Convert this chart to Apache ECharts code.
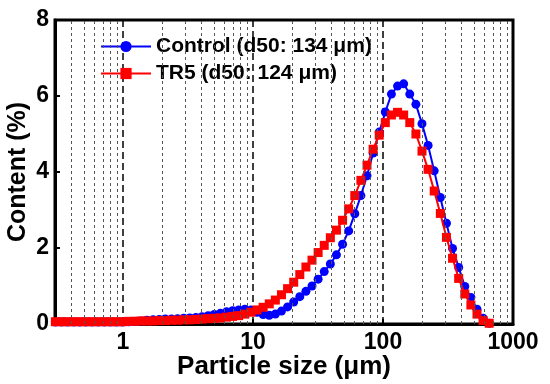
<!DOCTYPE html>
<html>
<head>
<meta charset="utf-8">
<script src="https://cdn.jsdelivr.net/npm/echarts@6/dist/echarts.min.js"></script>
<style>html,body{margin:0;padding:0;background:#fff}#c{width:550px;height:384px}</style>
</head>
<body>
<div id="c"></div>
<script>
// particle size classes (µm), log-evenly spaced
var sizes = [0.302,0.3365,0.375,0.418,0.4656,0.5188,0.578,0.644,0.7178,0.7998,0.8913,0.9931,
  1.1066,1.2331,1.374,1.531,1.706,1.901,2.118,2.360,2.630,2.931,3.266,3.639,4.055,4.519,5.035,
  5.610,6.252,6.966,7.762,8.650,9.638,10.74,11.97,13.34,14.86,16.56,18.45,20.56,22.91,25.53,
  28.44,31.70,35.32,39.36,43.85,48.87,54.45,60.67,67.61,75.34,83.95,93.54,104.2,116.1,129.4,
  144.2,160.7,179.1,199.5,222.3,247.7,276.1,307.6,342.8,382.0,425.6,474.3,528.4,588.8,656.1];
var control = [0.05,0.05,0.05,0.05,0.05,0.05,0.05,0.05,0.05,0.05,0.05,0.05,
  0.06,0.07,0.08,0.10,0.11,0.12,0.13,0.13,0.14,0.15,0.16,0.17,0.19,0.22,0.25,
  0.28,0.32,0.35,0.37,0.39,0.37,0.31,0.25,0.23,0.26,0.34,0.45,0.58,0.72,0.86,
  1.00,1.18,1.38,1.58,1.82,2.10,2.45,2.90,3.38,3.90,4.50,5.05,5.58,6.05,6.26,
  6.32,6.05,5.78,5.27,4.70,4.03,3.33,2.65,1.99,1.49,0.99,0.70,0.39,0.15,0.02];
var tr5 = [0.06,0.06,0.06,0.06,0.06,0.06,0.06,0.06,0.06,0.06,0.06,0.06,
  0.07,0.07,0.08,0.08,0.08,0.09,0.09,0.10,0.10,0.11,0.11,0.12,0.13,0.14,0.15,
  0.16,0.18,0.20,0.22,0.26,0.31,0.37,0.44,0.53,0.63,0.77,0.93,1.10,1.30,1.50,
  1.68,1.88,2.07,2.27,2.47,2.73,3.03,3.38,3.78,4.18,4.60,4.97,5.30,5.50,5.57,
  5.50,5.30,5.00,4.55,4.07,3.50,2.91,2.28,1.73,1.20,0.79,0.50,0.26,0.09,0.02];
var minorLines = [0.4,0.5,0.6,0.7,0.8,0.9,2,3,4,5,6,7,8,9,20,30,40,50,60,70,80,90,200,300,400,500,600,700,800,900];
var seriesNames = ['Control (d50: 134 μm)', 'TR5 (d50: 124 μm)'];
var yTicks = [0, 2, 4, 6, 8];

function pairs(v) { return sizes.map(function (s, i) { return [s, v[i]]; }); }

var chart = echarts.init(document.getElementById('c'));
var font = 'Liberation Sans, Arial, sans-serif';
chart.setOption({
  animation: false,
  grid: { left: 55, right: 37, top: 20, bottom: 60, outerBoundsMode: 'none', containLabel: false,
    show: true, borderColor: '#000', borderWidth: 3, backgroundColor: 'transparent' },
  legend: {
    data: seriesNames, orient: 'vertical', left: 95, top: 31, itemWidth: 50, itemHeight: 14, itemGap: 6,
    textStyle: { fontFamily: font, fontWeight: 'bold', fontSize: 21, color: '#000' }
  },
  xAxis: {
    type: 'log', logBase: 10, min: 0.3, max: 1000,
    name: 'Particle size (μm)', nameLocation: 'middle', nameGap: 30, nameMoveOverlap: false,
    nameTextStyle: { fontFamily: font, fontWeight: 'bold', fontSize: 26, color: '#000' },
    axisLine: { lineStyle: { color: '#000', width: 3 } },
    axisTick: { inside: true, length: 5, lineStyle: { color: '#000', width: 2 } },
    axisLabel: { showMinLabel: false, margin: 7, fontFamily: font, fontWeight: 'bold', fontSize: 23, color: '#000',
      formatter: function (v) { return String(Math.round(v)); } },
    splitLine: { show: true, lineStyle: { color: '#000', width: 1.5, type: [7, 4] } }
  },
  yAxis: {
    type: 'value', min: 0, max: 8, interval: 2,
    name: 'Content (%)', nameLocation: 'middle', nameGap: 24, nameMoveOverlap: false,
    nameTextStyle: { fontFamily: font, fontWeight: 'bold', fontSize: 25, color: '#000' },
    axisLine: { show: true, lineStyle: { color: '#000', width: 3 } },
    axisTick: { show: true, inside: true, length: 5, lineStyle: { color: '#000', width: 2 } },
    axisLabel: { margin: 6, fontFamily: font, fontWeight: 'bold', fontSize: 23, color: '#000',
      formatter: function (v) { return yTicks.indexOf(v) >= 0 ? String(v) : ''; } },
    splitLine: { show: false }
  },
  series: [
    {
      name: 'grid', type: 'line', data: [], silent: true, z: 1,
      markLine: {
        silent: true, symbol: 'none', label: { show: false }, animation: false,
        lineStyle: { color: '#555', width: 1, type: [3, 3] },
        data: minorLines.map(function (v) { return { xAxis: v }; })
      }
    },
    {
      name: seriesNames[0], type: 'line', data: pairs(control), z: 3,
      symbol: 'circle', symbolSize: 9,
      lineStyle: { color: '#0000ff', width: 2 }, itemStyle: { color: '#0000ff' }
    },
    {
      name: seriesNames[1], type: 'line', data: pairs(tr5), z: 4,
      symbol: 'rect', symbolSize: 9,
      lineStyle: { color: '#ff0000', width: 2 }, itemStyle: { color: '#ff0000' }
    }
  ]
});
</script>
</body>
</html>
